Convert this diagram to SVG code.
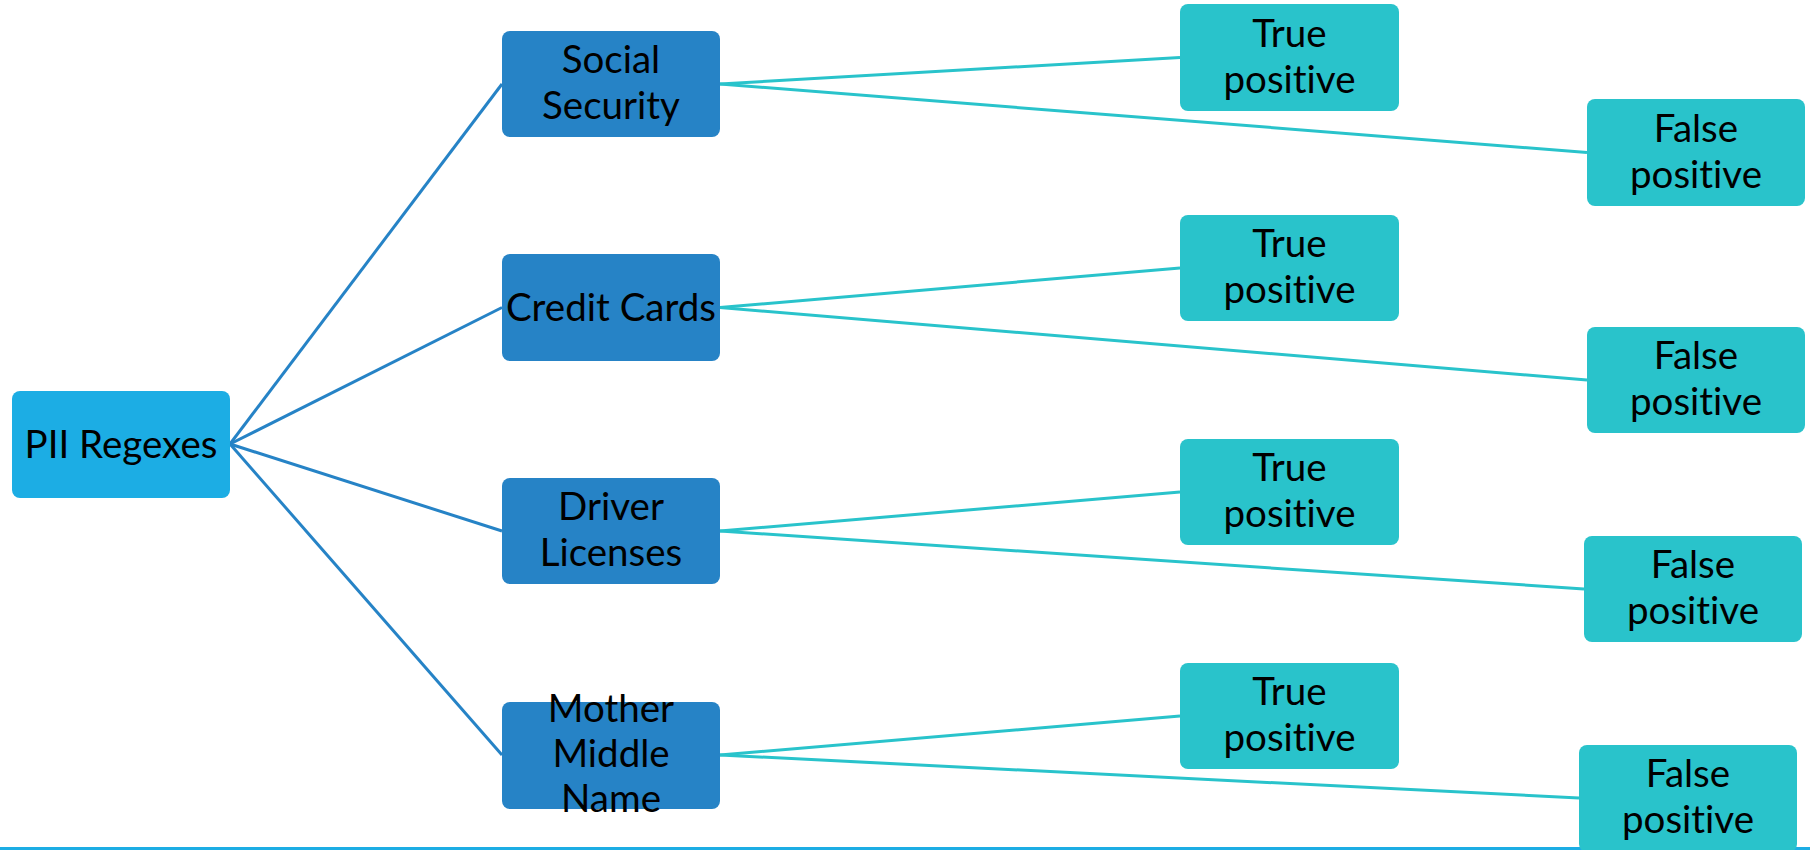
<svg xmlns="http://www.w3.org/2000/svg" width="1810" height="850" viewBox="0 0 1810 850">
<style>
.t{font-family:Lato,"Noto Sans",sans-serif;font-size:38.5px;fill:#000;text-anchor:middle;font-variant-ligatures:none;font-feature-settings:"liga" 0}
.root{fill:#1CADE4}
.mid{fill:#2683C6}
.leaf{fill:#29C3CB}
.c1{stroke:#2683C6;stroke-width:3;fill:none}
.c2{stroke:#29C3CB;stroke-width:3;fill:none}
</style>
<rect x="0" y="847" width="1810" height="3" fill="#1CADE4"/>
<g id="connectors">
<line class="c1" x1="230" y1="444" x2="502" y2="84"/>
<line class="c1" x1="230" y1="444" x2="502" y2="307.5"/>
<line class="c1" x1="230" y1="444" x2="502" y2="531"/>
<line class="c1" x1="230" y1="444" x2="502" y2="755"/>
<line class="c2" x1="720" y1="84" x2="1180" y2="57.5"/>
<line class="c2" x1="720" y1="84" x2="1587" y2="152.5"/>
<line class="c2" x1="720" y1="307.5" x2="1180" y2="268"/>
<line class="c2" x1="720" y1="307.5" x2="1587" y2="380"/>
<line class="c2" x1="720" y1="531" x2="1180" y2="492"/>
<line class="c2" x1="720" y1="531" x2="1584" y2="589"/>
<line class="c2" x1="720" y1="755" x2="1180" y2="716"/>
<line class="c2" x1="720" y1="755" x2="1579" y2="798"/>
</g>
<g id="pii">
<rect class="root" x="12" y="391" width="218" height="107" rx="8"/>
<text class="t" x="121" y="458">PII Regexes</text>
</g>
<g id="ss">
<rect class="mid" x="502" y="31" width="218" height="106" rx="8"/>
<text class="t" x="611" y="72.7">Social</text>
<text class="t" x="611" y="118.7">Security</text>
</g>
<g id="cc">
<rect class="mid" x="502" y="254" width="218" height="107" rx="8"/>
<text class="t" x="611" y="321">Credit Cards</text>
</g>
<g id="dl">
<rect class="mid" x="502" y="478" width="218" height="106" rx="8"/>
<text class="t" x="611" y="519.7">Driver</text>
<text class="t" x="611" y="565.7">Licenses</text>
</g>
<g id="mmn">
<rect class="mid" x="502" y="702" width="218" height="107" rx="8"/>
<text class="t" x="611" y="722">Mother</text>
<text class="t" x="611" y="767">Middle</text>
<text class="t" x="611" y="812">Name</text>
</g>
<g id="tp1">
<rect class="leaf" x="1180" y="4" width="219" height="107" rx="8"/>
<text class="t" x="1289.5" y="46.7">True</text>
<text class="t" x="1289.5" y="92.7">positive</text>
</g>
<g id="fp1">
<rect class="leaf" x="1587" y="99" width="218" height="107" rx="8"/>
<text class="t" x="1696" y="141.7">False</text>
<text class="t" x="1696" y="187.7">positive</text>
</g>
<g id="tp2">
<rect class="leaf" x="1180" y="215" width="219" height="106" rx="8"/>
<text class="t" x="1289.5" y="257.2">True</text>
<text class="t" x="1289.5" y="303.2">positive</text>
</g>
<g id="fp2">
<rect class="leaf" x="1587" y="327" width="218" height="106" rx="8"/>
<text class="t" x="1696" y="369.2">False</text>
<text class="t" x="1696" y="415.2">positive</text>
</g>
<g id="tp3">
<rect class="leaf" x="1180" y="439" width="219" height="106" rx="8"/>
<text class="t" x="1289.5" y="481.2">True</text>
<text class="t" x="1289.5" y="527.2">positive</text>
</g>
<g id="fp3">
<rect class="leaf" x="1584" y="536" width="218" height="106" rx="8"/>
<text class="t" x="1693" y="578.2">False</text>
<text class="t" x="1693" y="624.2">positive</text>
</g>
<g id="tp4">
<rect class="leaf" x="1180" y="663" width="219" height="106" rx="8"/>
<text class="t" x="1289.5" y="705.2">True</text>
<text class="t" x="1289.5" y="751.2">positive</text>
</g>
<g id="fp4">
<rect class="leaf" x="1579" y="745" width="218" height="107" rx="8"/>
<text class="t" x="1688" y="787.2">False</text>
<text class="t" x="1688" y="833.2">positive</text>
</g>
</svg>
